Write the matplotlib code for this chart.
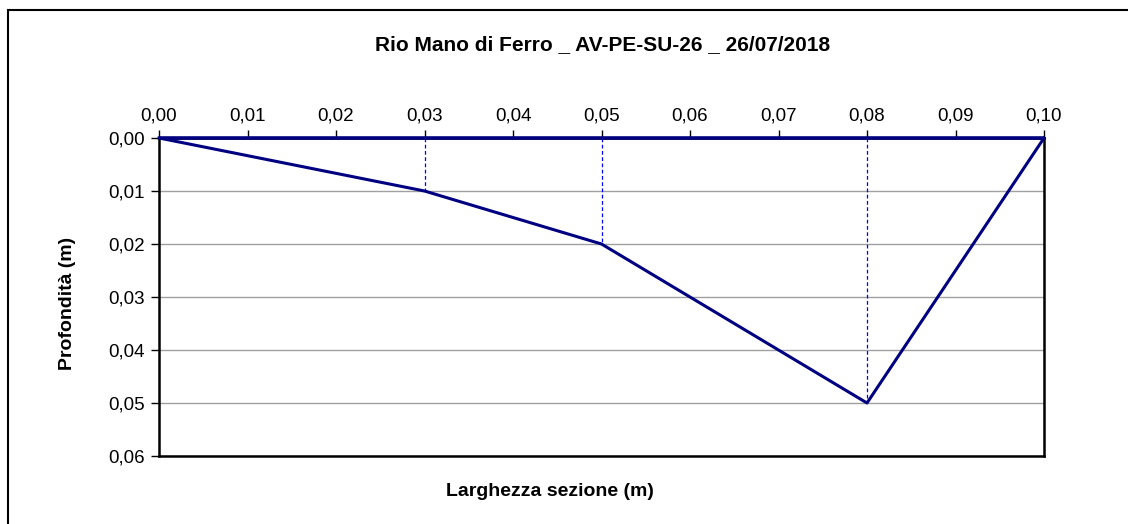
import matplotlib.pyplot as plt
from matplotlib.ticker import FuncFormatter, MultipleLocator
from matplotlib.patches import Rectangle

plt.rcParams['font.family'] = ['Liberation Sans', 'DejaVu Sans']

# Data
title = "Rio Mano di Ferro _ AV-PE-SU-26 _ 26/07/2018"
larghezza = [0.00, 0.03, 0.05, 0.08, 0.10]     # m
profondita = [0.00, 0.01, 0.02, 0.05, 0.00]    # m
verticali = [0.03, 0.05, 0.08]                 # measuring verticals
prof_verticali = [0.01, 0.02, 0.05]

fig = plt.figure(figsize=(11.28, 5.24), dpi=100)
ax = fig.add_axes([159 / 1128, 1 - 456 / 524, (1044 - 159) / 1128, (456 - 138) / 524])

# Outer frame (cut at right / bottom like the original)
fig.patches.append(Rectangle((8 / 1128, -0.05), 1.2, 1.05 - 9.5 / 524,
                             transform=fig.transFigure, fill=False,
                             edgecolor='black', linewidth=1.5, clip_on=False))

# Horizontal grid
ax.set_xlim(0, 0.10)
ax.set_ylim(0.06, 0.0)
ax.yaxis.set_major_locator(MultipleLocator(0.01))
ax.xaxis.set_major_locator(MultipleLocator(0.01))
ax.grid(axis='y', color='#a0a0a0', linewidth=1)
ax.set_axisbelow(True)

# Water surface
ax.plot([larghezza[0], larghezza[-1]], [0, 0], color='#000080', linewidth=2.6,
        solid_capstyle='butt', clip_on=False, zorder=4)

# Verticals
for xv, yv in zip(verticali, prof_verticali):
    ax.plot([xv, xv], [0, yv], color='#0000ff', linewidth=0.9, linestyle=(0, (3, 2)), zorder=3)

# Bed profile
ax.plot(larghezza, profondita, color='#000080', linewidth=2.2, clip_on=False, zorder=5)

fmt = FuncFormatter(lambda v, p: f"{v:.2f}".replace('.', ','))
ax.xaxis.set_major_formatter(fmt)
ax.yaxis.set_major_formatter(fmt)
ax.xaxis.tick_top()
ax.tick_params(axis='both', direction='out', length=6, width=1, labelsize=13.5, pad=4)

for s in ax.spines.values():
    s.set_linewidth(1.8)
    s.set_color('black')

fig.text(603 / 1128, 1 - 45 / 524, title, ha='center', va='center',
         fontsize=15, fontweight='bold')
fig.text(67 / 1128, 1 - 303 / 524, "Profondità (m)", ha='center', va='center',
         rotation=90, fontsize=14, fontweight='bold')
fig.text(550 / 1128, 1 - 491 / 524, "Larghezza sezione (m)", ha='center', va='center',
         fontsize=14, fontweight='bold')

fig.savefig("out.png", dpi=100)
